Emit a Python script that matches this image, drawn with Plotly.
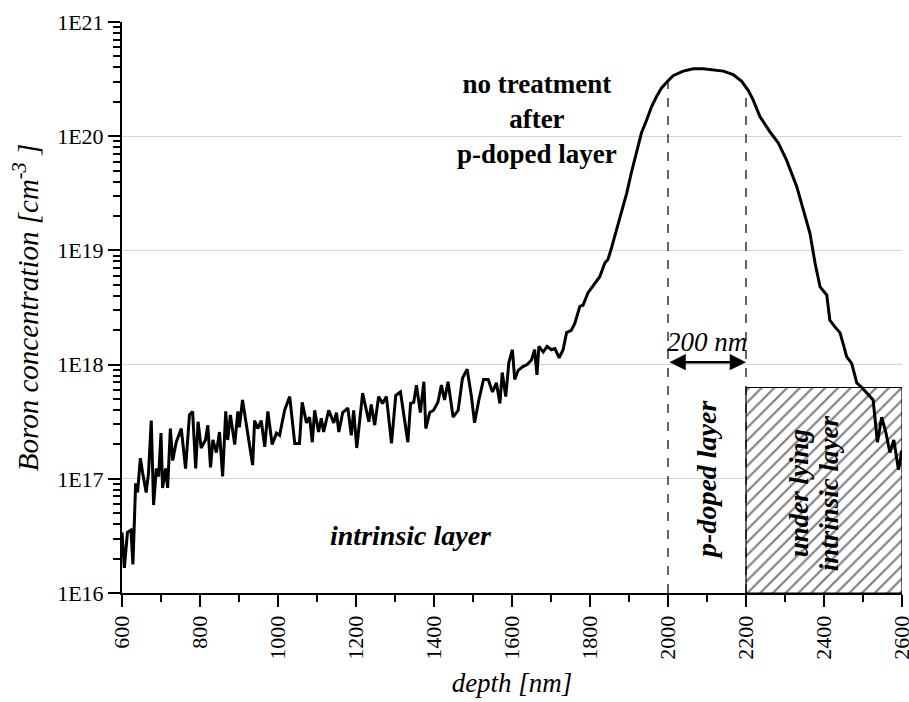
import numpy as np
import plotly.graph_objects as go

# SIMS depth profile: boron concentration vs. depth (log10 of cm^-3)
depth_nm = [
    600, 606, 614, 623, 628, 635, 640, 647, 653, 662, 668, 675, 681, 688, 694,
    700, 704, 712, 717, 724, 730, 739, 752, 763, 773, 781, 789, 795, 803, 814,
    820, 827, 833, 842, 850, 858, 866, 871, 878, 889, 897, 901, 909, 918, 925,
    935, 940, 948, 957, 966, 974, 985, 996,
    1004, 1017, 1030, 1043, 1055, 1062, 1073, 1081, 1088, 1094, 1104, 1111, 1117,
    1130, 1143, 1150, 1156, 1166, 1179, 1188, 1194, 1202, 1217, 1233, 1239, 1248,
    1258, 1268, 1278, 1291, 1302, 1314, 1322, 1333, 1340, 1348, 1355, 1365, 1374,
    1379, 1389, 1399, 1410, 1419, 1427, 1436, 1449, 1462, 1473, 1485, 1496, 1504,
    1515, 1527, 1539, 1550, 1560, 1569, 1575, 1584, 1592, 1601, 1607, 1616, 1627,
    1639, 1650, 1658, 1664, 1669, 1680, 1690, 1701, 1710, 1721, 1731, 1740, 1752,
    1761, 1774, 1782, 1795, 1812, 1825, 1838, 1846, 1855, 1868, 1881, 1894, 1906,
    1919, 1932, 1945, 1958, 1971, 1983, 1996, 2013, 2039, 2065, 2090, 2116, 2142,
    2167, 2189, 2206, 2218, 2236, 2261, 2283, 2304, 2330, 2347, 2364, 2377, 2390,
    2407, 2415, 2428, 2441, 2451, 2458, 2471, 2484, 2497, 2514, 2526, 2537, 2548,
    2559, 2569, 2579, 2591, 2600,
]
log_boron = [
    16.53, 16.22, 16.53, 16.55, 16.25, 16.96, 16.88, 17.18, 17.05, 16.88, 17.05,
    17.51, 16.77, 17.09, 17.02, 17.40, 16.92, 17.09, 16.92, 17.44, 17.16, 17.32,
    17.44, 17.09, 17.56, 17.59, 17.09, 17.50, 17.27, 17.34, 17.47, 17.10, 17.34,
    17.23, 17.41, 17.02, 17.59, 17.34, 17.56, 17.30, 17.59, 17.45, 17.69, 17.50,
    17.34, 17.12, 17.51, 17.44, 17.51, 17.28, 17.59, 17.30, 17.40,
    17.38, 17.60, 17.72, 17.31, 17.31, 17.67, 17.49, 17.54, 17.32, 17.60, 17.41,
    17.53, 17.41, 17.60, 17.49, 17.58, 17.41, 17.58, 17.62, 17.38, 17.60, 17.27,
    17.75, 17.50, 17.65, 17.47, 17.72, 17.66, 17.72, 17.31, 17.73, 17.76, 17.56,
    17.32, 17.66, 17.67, 17.82, 17.58, 17.85, 17.44, 17.58, 17.60, 17.67, 17.82,
    17.69, 17.85, 17.54, 17.60, 17.88, 17.96, 17.72, 17.49, 17.69, 17.87, 17.87,
    17.76, 17.84, 17.66, 17.93, 17.72, 18.02, 18.13, 17.87, 17.95, 17.98, 18.00,
    18.04, 18.13, 17.91, 18.16, 18.11, 18.16, 18.13, 18.14, 18.06, 18.13, 18.28,
    18.30, 18.36, 18.51, 18.52, 18.63, 18.71, 18.77, 18.89, 18.92, 19.02, 19.18,
    19.33, 19.50, 19.68, 19.85, 20.03, 20.14, 20.26, 20.35, 20.42, 20.47, 20.53,
    20.57, 20.59, 20.59, 20.58, 20.57, 20.54, 20.48, 20.40, 20.32, 20.17, 20.04,
    19.94, 19.79, 19.56, 19.35, 19.15, 18.89, 18.68, 18.61, 18.39, 18.33, 18.28,
    18.16, 18.07, 18.01, 17.84, 17.80, 17.73, 17.69, 17.32, 17.54, 17.40, 17.23,
    17.34, 17.08, 17.25,
]

# Axis ticks
x_tick_vals = [600, 800, 1000, 1200, 1400, 1600, 1800, 2000, 2200, 2400, 2600]
y_decades = [16, 17, 18, 19, 20, 21]
y_tick_text = ["1E16", "1E17", "1E18", "1E19", "1E20", "1E21"]

# Layer geometry
p_layer_start = 2000
p_layer_end = 2200
depth_end = 2600
underlying_top = 6.3e17
arrow_level = 1.05e18

FONT = "Liberation Serif"

boron = 10 ** np.array(log_boron)
y_floor = 10.0 ** y_decades[0]

fig = go.Figure()

# Hatched block for the underlying intrinsic layer
fig.add_trace(go.Scatter(
    x=[p_layer_end, depth_end, depth_end, p_layer_end, p_layer_end],
    y=[y_floor, y_floor, underlying_top, underlying_top, y_floor],
    mode="lines", fill="toself", fillcolor="white",
    fillpattern=dict(shape="/", fgcolor="black", bgcolor="white", size=9, solidity=0.24),
    line=dict(color="black", width=1.2), hoverinfo="skip", showlegend=False,
))

# Dashed boundaries of the p-doped layer, up to the profile
for xb in (p_layer_start, p_layer_end):
    top = 10 ** np.interp(xb, depth_nm, log_boron)
    fig.add_trace(go.Scatter(
        x=[xb, xb], y=[y_floor, top], mode="lines",
        line=dict(color="black", width=1.2, dash="dash"),
        hoverinfo="skip", showlegend=False,
    ))

# Boron profile
fig.add_trace(go.Scatter(
    x=depth_nm, y=boron, mode="lines",
    line=dict(color="black", width=3), showlegend=False,
))

ann_font = dict(family=FONT, size=27, color="black")
arrow_y = np.log10(arrow_level)

annotations = [
    # double-headed arrow spanning the p-doped layer
    dict(x=p_layer_end, y=arrow_y, ax=p_layer_start, ay=arrow_y,
         xref="x", yref="y", axref="x", ayref="y", text="", showarrow=True,
         arrowhead=2, arrowside="end+start", arrowsize=1.3, arrowwidth=2.5,
         arrowcolor="black", standoff=0, startstandoff=0),
    dict(x=(p_layer_start + p_layer_end) / 2, y=18.2, xref="x", yref="y",
         text="<i>200 nm</i>", showarrow=False, font=ann_font),
    dict(x=1340, y=16.5, xref="x", yref="y", text="<b><i>intrinsic layer</i></b>",
         showarrow=False, font=dict(family=FONT, size=28, color="black")),
    dict(x=1663, y=20.15, xref="x", yref="y",
         text="<b>no treatment<br>after<br>p-doped layer</b>",
         showarrow=False, font=ann_font),
    dict(x=2100, y=16.99, xref="x", yref="y", text="<b><i>p-doped layer</i></b>",
         textangle=-90, showarrow=False, font=dict(family=FONT, size=28, color="black")),
    dict(x=2335, y=16.87, xref="x", yref="y", text="<b><i>under lying</i></b>",
         textangle=-90, showarrow=False, font=ann_font),
    dict(x=2412, y=16.87, xref="x", yref="y", text="<b><i>intrinsic layer</i></b>",
         textangle=-90, showarrow=False, font=ann_font),
]

fig.update_layout(
    width=909, height=702,
    margin=dict(l=122, r=7, t=22, b=109),
    paper_bgcolor="white", plot_bgcolor="white",
    font=dict(family=FONT, size=22, color="black"),
    showlegend=False,
    annotations=annotations,
    xaxis=dict(
        range=[600, depth_end], tickmode="array", tickvals=x_tick_vals,
        tickangle=-90, ticks="outside", ticklen=12, tickwidth=2, tickcolor="black",
        ticklabeloverflow="allow", automargin=False,
        showline=True, linewidth=2, linecolor="black", showgrid=False, zeroline=False,
        minor=dict(ticks="outside", ticklen=7, tickwidth=1.5, tickcolor="black", dtick=100),
        tickfont=dict(family=FONT, size=22),
        title=dict(text="<i>depth [nm]</i>", font=dict(family=FONT, size=27), standoff=14),
    ),
    yaxis=dict(
        type="log", range=[16, 21], tickmode="array",
        tickvals=[10.0 ** d for d in y_decades], ticktext=y_tick_text,
        ticks="outside", ticklen=12, tickwidth=2, tickcolor="black",
        automargin=False,
        showline=True, linewidth=2, linecolor="black",
        showgrid=True, gridcolor="#d4d4d4", gridwidth=1, zeroline=False,
        minor=dict(ticks="outside", ticklen=7, tickwidth=1.5, tickcolor="black",
                   dtick="D1", showgrid=False),
        tickfont=dict(family=FONT, size=22),
        title=dict(text="<i>Boron concentration [cm<sup>-3</sup> ]</i>",
                   font=dict(family=FONT, size=29), standoff=10),
    ),
)

fig.write_html("out.html")
